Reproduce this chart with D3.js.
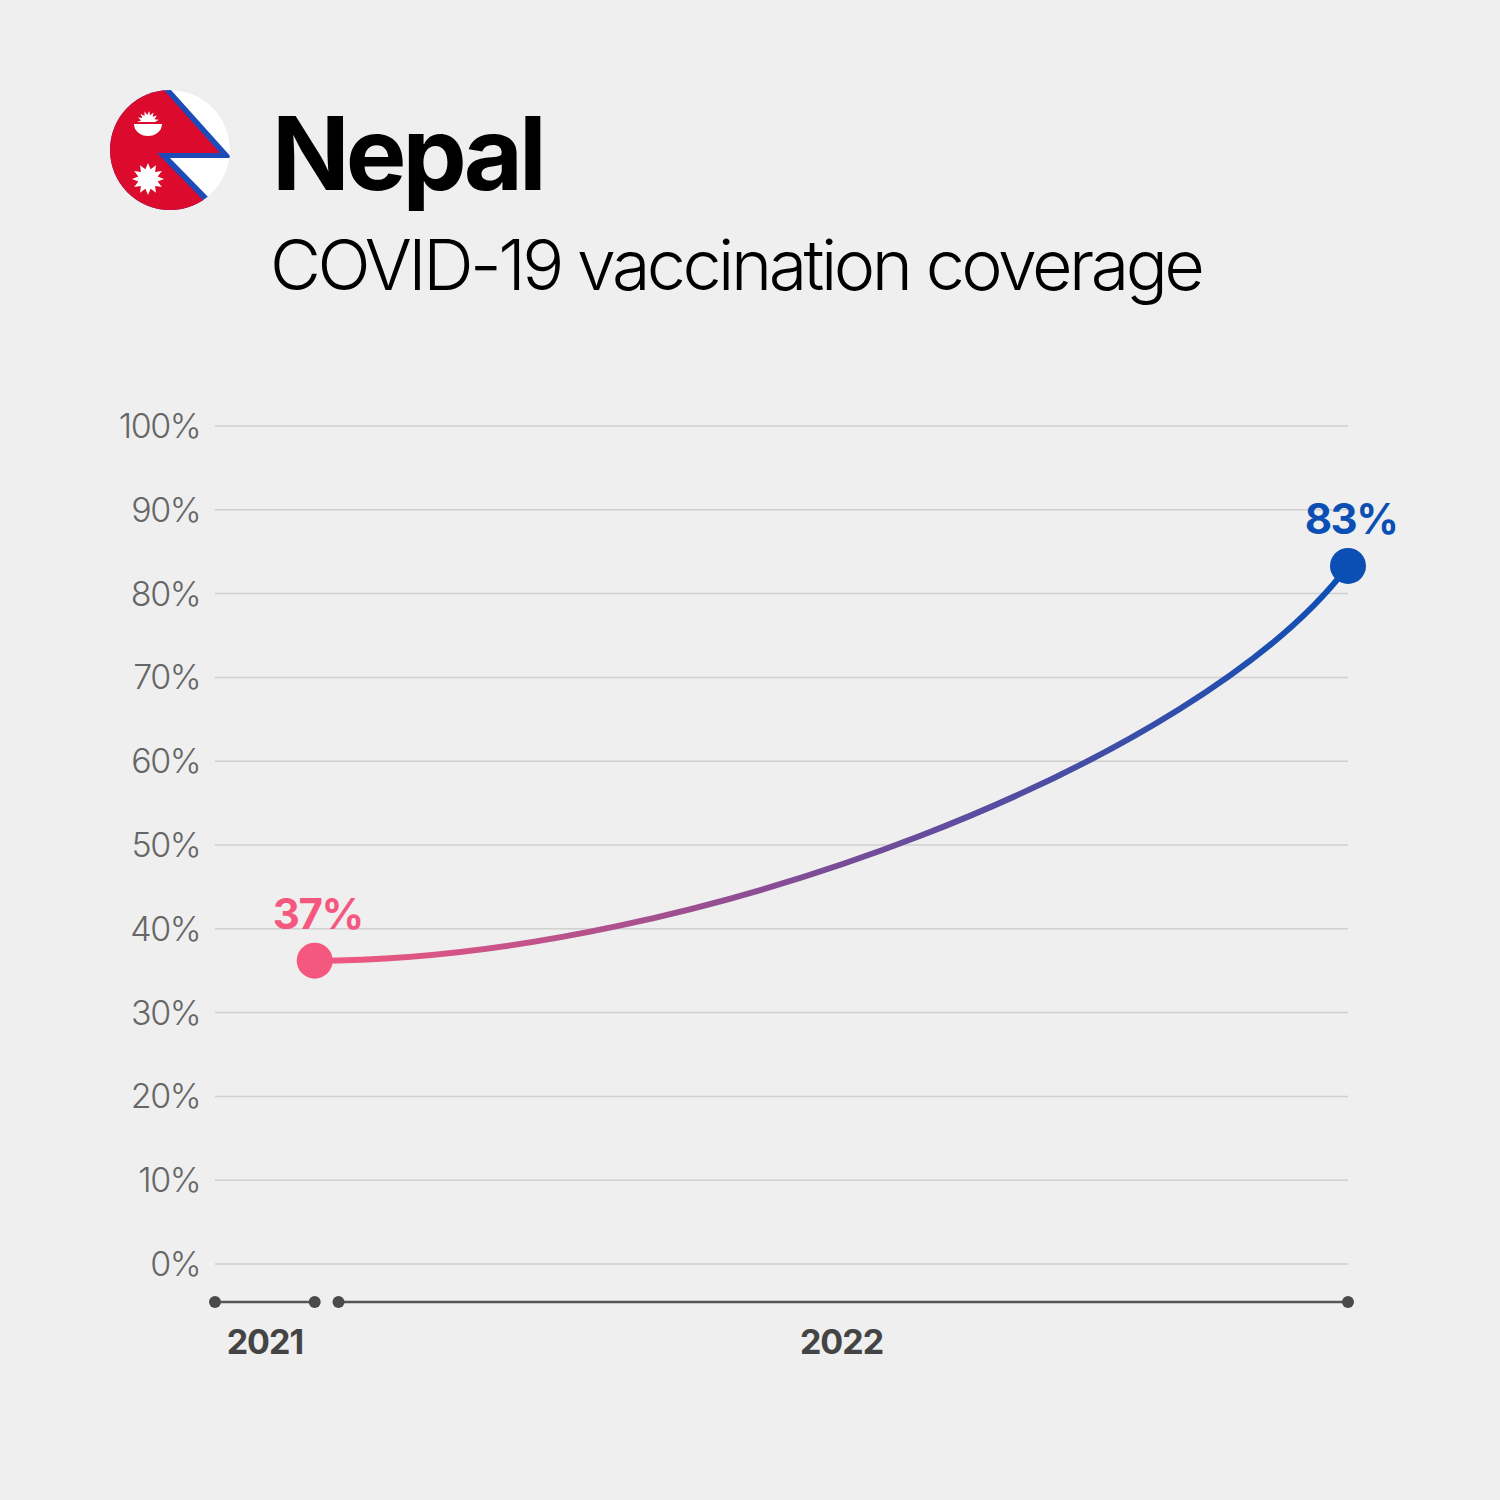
<!DOCTYPE html>
<html><head><meta charset="utf-8">
<script src="https://cdn.jsdelivr.net/npm/d3@7.9.0/dist/d3.min.js"></script>
<style>body{margin:0;background:#efefef}svg{display:block}</style>
</head><body>
<svg id="c" width="1500" height="1500"></svg>
<script>
const yTicks = [0, 10, 20, 30, 40, 50, 60, 70, 80, 90, 100];
const pointX = [8.8, 100];
const pointValues = [36.2, 83.3];
const pointLabels = ['37%', '83%'];
const yearLabels = ['2021', '2022'];
const yearSegments = [[0, 8.8], [10.9, 100]];
const yearLabelX = [4.4, 55.3];

const svg = d3.select('#c');
svg.append('rect').attr('width', 1500).attr('height', 1500).attr('fill', '#efefef');

const x = d3.scaleLinear().domain([0, 100]).range([215, 1348]);
const y = d3.scaleLinear().domain([0, 100]).range([1264, 426]);

// flag
const defs = svg.append('defs');
defs.append('clipPath').attr('id', 'fc').append('circle').attr('cx', 170).attr('cy', 150).attr('r', 60);
const grad = defs.append('linearGradient').attr('id', 'lg').attr('gradientUnits', 'userSpaceOnUse')
  .attr('x1', x(pointX[0])).attr('x2', x(pointX[1])).attr('y1', 0).attr('y2', 0);
grad.append('stop').attr('offset', '0%').attr('stop-color', '#f5587f');
grad.append('stop').attr('offset', '50%').attr('stop-color', '#7a4c98');
grad.append('stop').attr('offset', '100%').attr('stop-color', '#0b4fb4');

const flag = svg.append('g').attr('clip-path', 'url(#fc)');
flag.append('circle').attr('cx', 170).attr('cy', 150).attr('r', 60).attr('fill', '#fff');
flag.append('polygon').attr('points', '100,80 162,80 232,158 170,158 216,205 216,230 100,230').attr('fill', '#1d4bb8');
flag.append('polygon').attr('points', '100,80 155,80 220,153 157,153 208,205 208,230 100,230').attr('fill', '#dc0a2d');
// moon
flag.append('path').attr('d', 'M134,124 A14,12 0 0 0 162,124 Z').attr('fill', '#fff');
const moonStar = d3.range(16).map(i => {
  const a = Math.PI + i * Math.PI / 15, r = i % 2 ? 7 : 11;
  return [148 + r * Math.cos(a), 122 + r * Math.sin(a)];
});
flag.append('path').attr('d', d3.line()(moonStar)).attr('fill', '#fff');
const sun = d3.range(24).map(i => {
  const a = i * Math.PI / 12, r = i % 2 ? 10 : 16;
  return [148 + r * Math.cos(a), 179 + r * Math.sin(a)];
});
flag.append('path').attr('d', d3.line()(sun) + 'Z').attr('fill', '#fff');

svg.append('text').attr('x', 272).attr('y', 190).text('Nepal')
  .attr('font-family', 'Inter, Liberation Sans, sans-serif').attr('font-weight', 700)
  .attr('font-size', 102).attr('letter-spacing', -4).attr('fill', '#000');
svg.append('text').attr('x', 270).attr('y', 290).text('COVID-19 vaccination coverage')
  .attr('font-family', 'Inter, Liberation Sans, sans-serif').attr('font-weight', 300)
  .attr('font-size', 70).attr('letter-spacing', -3.5).attr('fill', '#000');

// grid
svg.append('g').selectAll('line').data(yTicks).join('line')
  .attr('x1', 215).attr('x2', 1348).attr('y1', d => y(d)).attr('y2', d => y(d))
  .attr('stroke', '#d0d0d0').attr('stroke-width', 1.5);
svg.append('g').selectAll('text').data(yTicks).join('text')
  .attr('x', 200).attr('y', d => y(d) + 12).attr('text-anchor', 'end').text(d => d + '%')
  .attr('font-family', 'Inter, Liberation Sans, sans-serif').attr('font-weight', 300)
  .attr('font-size', 34).attr('letter-spacing', -1.5).attr('fill', '#666');

// x axis segments
const ax = svg.append('g');
yearSegments.forEach(s => {
  ax.append('line').attr('x1', x(s[0])).attr('x2', x(s[1])).attr('y1', 1302).attr('y2', 1302)
    .attr('stroke', '#555').attr('stroke-width', 2.5);
  s.forEach(v => ax.append('circle').attr('cx', x(v)).attr('cy', 1302).attr('r', 6).attr('fill', '#4a4a4a'));
});
ax.selectAll('text').data(yearLabels).join('text')
  .attr('x', (d, i) => x(yearLabelX[i])).attr('y', 1354).attr('text-anchor', 'middle').text(d => d)
  .attr('font-family', 'Inter, Liberation Sans, sans-serif').attr('font-weight', 700)
  .attr('font-size', 34).attr('letter-spacing', -1).attr('fill', '#444');

// curve
const x0 = x(pointX[0]), y0 = y(pointValues[0]), x1 = x(pointX[1]), y1 = y(pointValues[1]);
const p = d3.path();
p.moveTo(x0, y0);
p.bezierCurveTo(x0 + (x1 - x0) * 0.37, y0, x0 + (x1 - x0) * 0.86, y0 - (y0 - y1) * 0.51, x1, y1);
svg.append('path').attr('d', p.toString()).attr('fill', 'none').attr('stroke', 'url(#lg)').attr('stroke-width', 6);

const colors = ['#f5587f', '#0b4fb4'];
svg.selectAll('.dot').data(pointValues).join('circle')
  .attr('cx', (d, i) => x(pointX[i])).attr('cy', d => y(d)).attr('r', 18).attr('fill', (d, i) => colors[i]);
svg.selectAll('.lbl').data(pointLabels).join('text')
  .attr('x', (d, i) => x(pointX[i]) + 3).attr('y', (d, i) => y(pointValues[i]) - 32)
  .attr('text-anchor', 'middle').text(d => d)
  .attr('font-family', 'Inter, Liberation Sans, sans-serif').attr('font-weight', 700)
  .attr('font-size', 42).attr('letter-spacing', -1.5).attr('fill', (d, i) => colors[i]);
</script>
</body></html>
